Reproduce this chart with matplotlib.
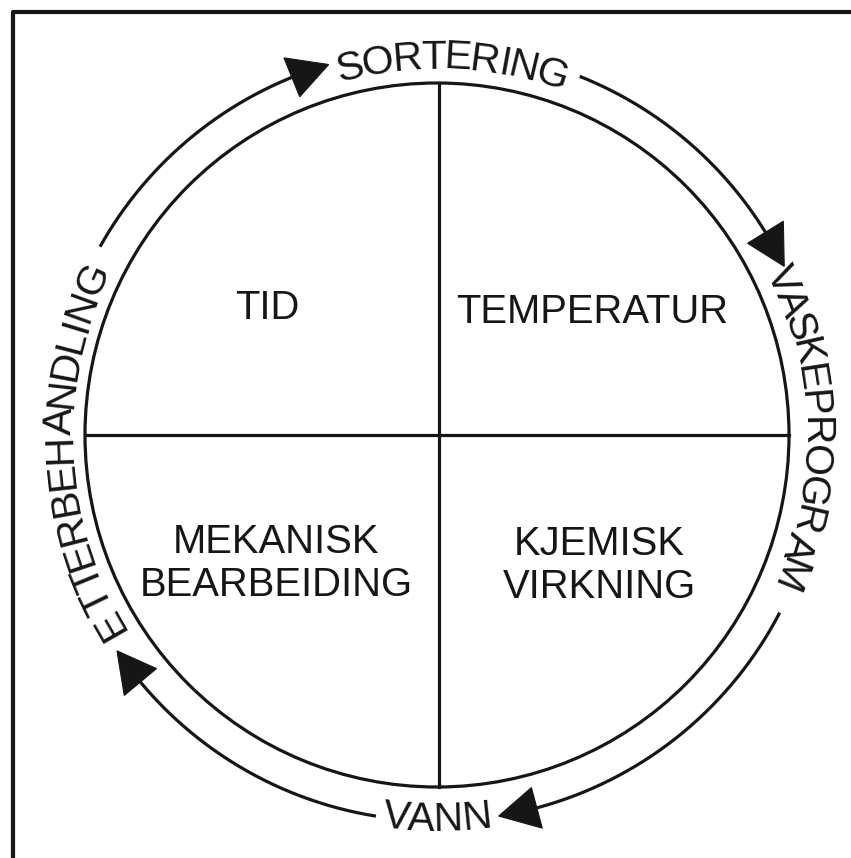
import numpy as np
import matplotlib
matplotlib.use("Agg")
import matplotlib.pyplot as plt
from matplotlib.font_manager import FontProperties
from matplotlib.textpath import TextToPath
from matplotlib.patches import Circle, Polygon

# cycle steps around the circle (read clockwise) and the four factors inside
steps = ["SORTERING", "VASKEPROGRAM", "VANN", "ETTERBEHANDLING"]
step_angle = [87.6, 1.0, -90.0, 182.5]          # centre of each label, degrees
arc_start = [150.8, 68.3, -27.4, 260.9]         # where each arrow arc begins
arc_tip = [106.3, 25.9, -80.8, 214.0]           # where each arrowhead points
factors = ["TID", "TEMPERATUR", "MEKANISK\nBEARBEIDING", "KJEMISK\nVIRKNING"]

# layout (pixels)
cx, cy = 437, 435
R = 352
R_ARC = 386
R_TEXT = 381
FS = 41                      # font size in px
CAP = 0.716 * FS
TRACK = 0.97
FONT = "Liberation Sans"
INK = "#161616"

fig = plt.figure(figsize=(8.51, 8.58), dpi=100)
ax = fig.add_axes([0, 0, 1, 1])
ax.set_xlim(0, 851)
ax.set_ylim(858, 0)
ax.axis("off")


def pt(r, a):
    a = np.radians(a)
    return cx + r * np.cos(a), cy - r * np.sin(a)


def curved(text, a_c, inward=False):
    fp = FontProperties(family=FONT, size=FS)
    ttp = TextToPath()
    w = [0.0] + [ttp.get_text_width_height_descent(text[:i], fp, ismath=False)[0]
                 for i in range(1, len(text) + 1)]
    total = w[-1]
    for i, ch in enumerate(text):
        s = ((w[i] + w[i + 1]) / 2 - total / 2) * TRACK
        da = np.degrees(s / R_TEXT)
        if inward:
            a = a_c + da
            rb = R_TEXT + CAP / 2
            rot = a + 90
        else:
            a = a_c - da
            rb = R_TEXT - CAP / 2
            rot = a - 90
        x, y = pt(rb, a)
        ax.text(x, y, ch, fontsize=FS * 0.72, family=FONT, color=INK,
                rotation=rot, rotation_mode="anchor", ha="center", va="baseline")


# frame (only left and top edges fall inside the picture)
ax.plot([13, 13, 900], [900, 12, 12], color=INK, lw=3.0, solid_capstyle="projecting")

# main circle and the cross
ax.add_patch(Circle((cx, cy), R, fill=False, ec=INK, lw=2.3))
ax.plot([439, 439], [cy - R, cy + R], color=INK, lw=2.3)
ax.plot([cx - R, cx + R], [cy, cy], color=INK, lw=2.3)

# quadrant labels
quad_pos = [(267, 319), (592, 323), (276, 553), (599, 555)]
for lab, (x, y) in zip(factors, quad_pos):
    for k, line in enumerate(lab.split("\n")):
        ax.text(x, y + k * 43, line, fontsize=40 * 0.72, family=FONT, color=INK,
                ha="center", va="baseline")

# arrow arcs
L, W = 39, 42
for a0, a1 in zip(arc_start, arc_tip):
    a_base = a1 + np.degrees(L / R_ARC)
    aa = np.linspace(a0, a_base, 200)
    xs, ys = pt(R_ARC, aa)
    ax.plot(xs, ys, color=INK, lw=2.3, solid_capstyle="butt")
    tip = pt(R_ARC, a1)
    b1 = pt(R_ARC + W / 2, a_base)
    b2 = pt(R_ARC - W / 2, a_base)
    ax.add_patch(Polygon([tip, b1, b2], closed=True, fc=INK, ec=INK, lw=0.8))

# labels around the circle
for lab, a in zip(steps, step_angle):
    curved(lab, a, inward=(lab == "VANN"))

fig.savefig("out.png", dpi=100)
